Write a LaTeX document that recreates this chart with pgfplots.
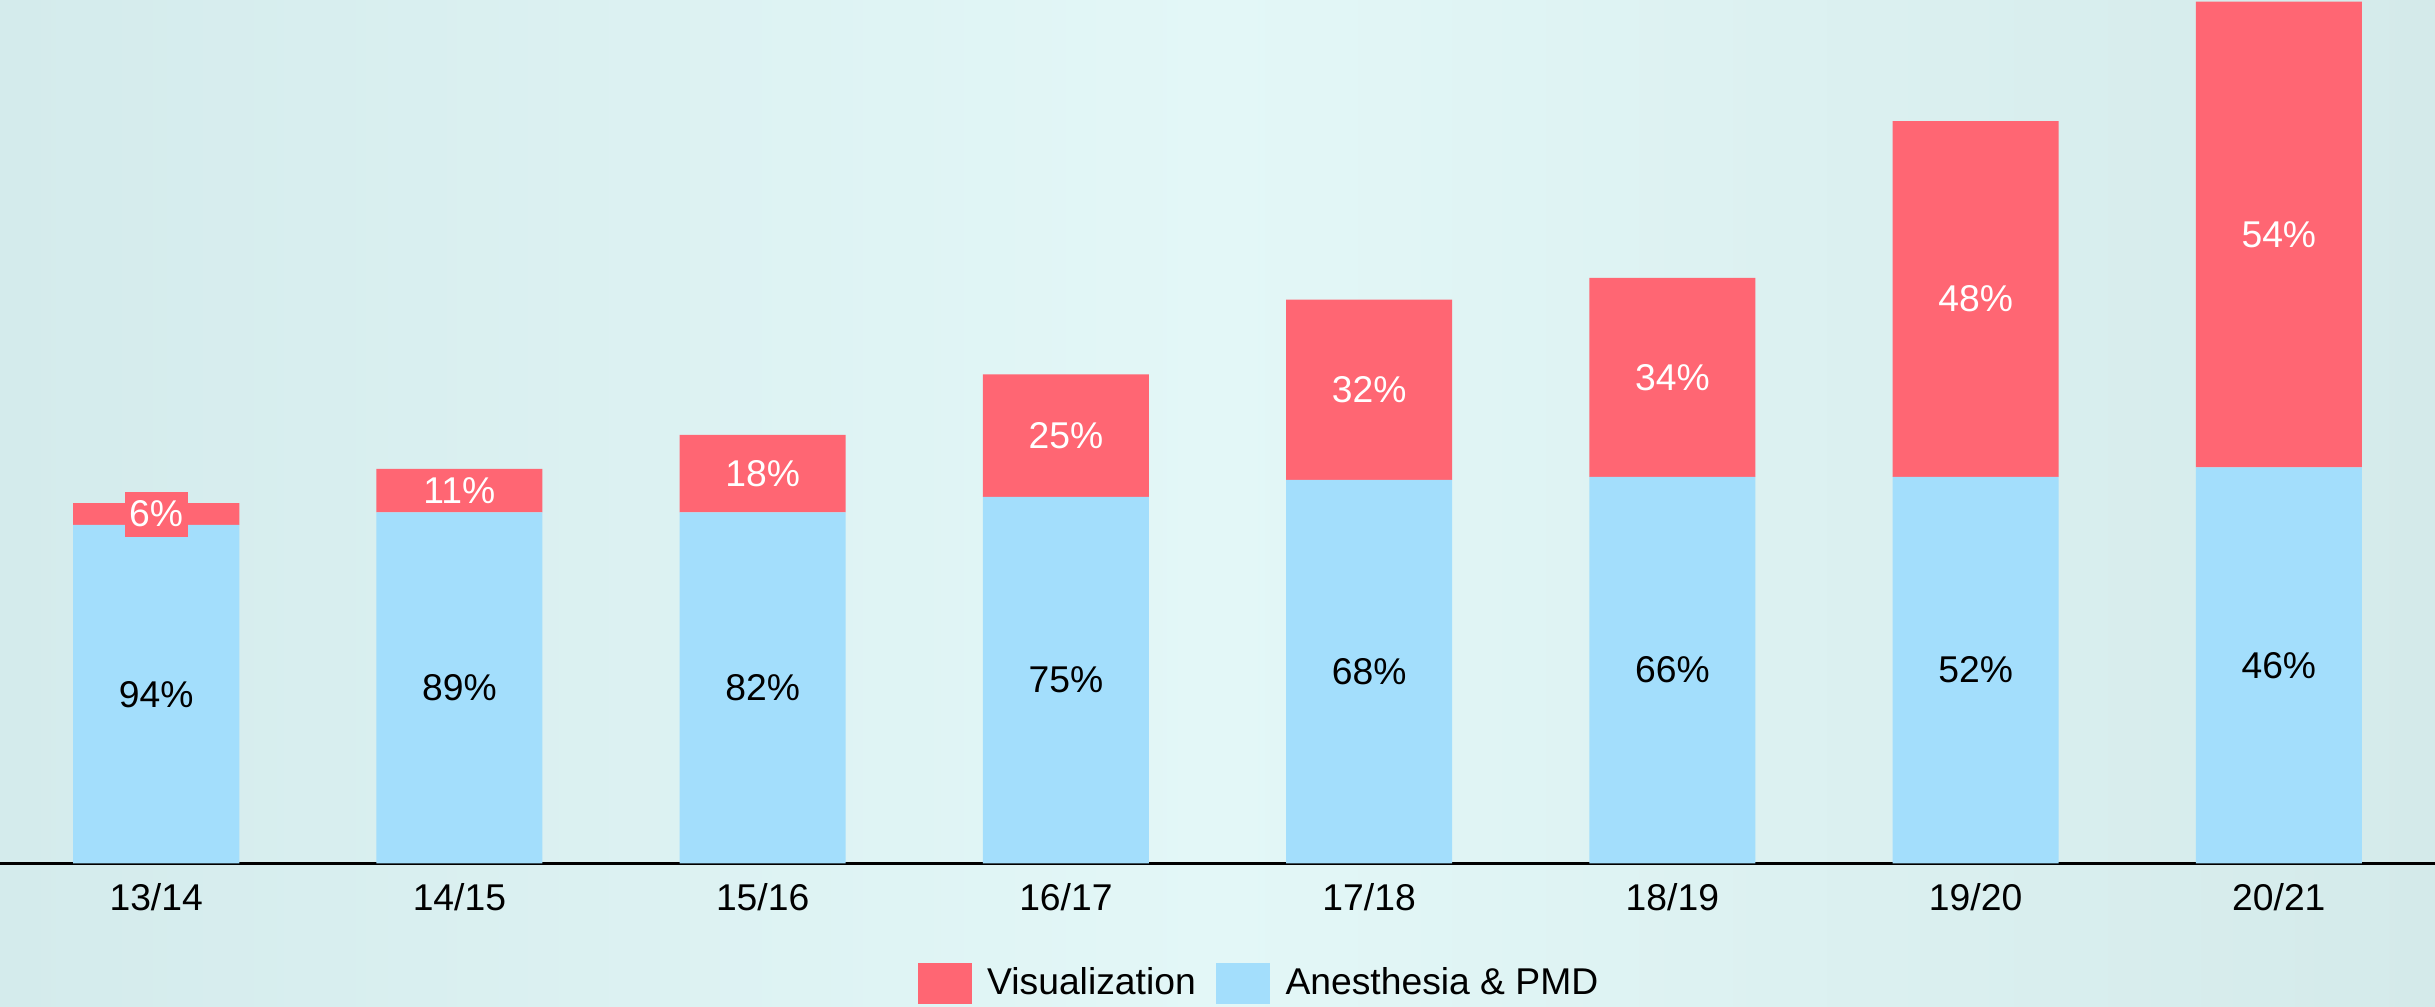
\documentclass[border=0pt]{standalone}
\usepackage{pgfplots}
\pgfplotsset{compat=1.18}
\usepackage{fontspec}
\setmainfont{Liberation Sans}
\definecolor{visred}{HTML}{FF6673}
\definecolor{anblue}{HTML}{A3DEFC}
\definecolor{bgL}{HTML}{D4EBEC}
\definecolor{bgM}{HTML}{E3F7F7}
\definecolor{bgR}{HTML}{D4EAEA}
\begin{document}
\begin{tikzpicture}[font=\fontsize{12}{14.4}\selectfont]
\shade[left color=bgL, right color=bgR, middle color=bgM] (0pt,0pt) rectangle (784pt,-324pt);
\begin{axis}[
  at={(0pt,0pt)}, anchor=north west,
  width=784pt, height=278pt, scale only axis,
  ybar stacked, bar width=53.5pt,
  xmin=-0.515, xmax=7.515, ymin=0, ymax=556,
  axis x line=bottom, hide y axis,
  x axis line style={-, black, line width=0.75pt},
  xtick={0,...,7},
  xticklabels={13/14,14/15,15/16,16/17,17/18,18/19,19/20,20/21},
  major tick length=0pt,
  xticklabel style={yshift=-3pt, font=\fontsize{12}{14.4}\selectfont},
  clip=false,
  legend columns=2,
  legend style={at={(0.5179,-0.1385)}, anchor=center, draw=none, fill=none,
    inner sep=0pt, font=\fontsize{12}{14.4}\selectfont,
    /tikz/every even column/.append style={column sep=4.5pt}},
  after end axis/.code={
    \node at (axis cs:0,109) {94\%};
    \node at (axis cs:1,113) {89\%};
    \node at (axis cs:2,113) {82\%};
    \node at (axis cs:3,118) {75\%};
    \node at (axis cs:4,123.5) {68\%};
    \node at (axis cs:5,124.5) {66\%};
    \node at (axis cs:6,124.5) {52\%};
    \node at (axis cs:7,127.5) {46\%};
    \node[fill=visred, text=white, inner xsep=1.5pt, inner ysep=3pt] at (axis cs:0,225) {6\%};
    \node[text=white] at (axis cs:1,240) {11\%};
    \node[text=white] at (axis cs:2,251) {18\%};
    \node[text=white] at (axis cs:3,275.5) {25\%};
    \node[text=white] at (axis cs:4,305) {32\%};
    \node[text=white] at (axis cs:5,313) {34\%};
    \node[text=white] at (axis cs:6,363.5) {48\%};
    \node[text=white] at (axis cs:7,405) {54\%};
  },
]
\addlegendimage{legend image code/.code={\fill[visred] (0pt,-6.5pt) rectangle (17pt,6.2pt);}}
\addlegendentry{\hspace{3pt}Visualization}
\addlegendimage{legend image code/.code={\fill[anblue] (0pt,-6.5pt) rectangle (17pt,6.2pt);}}
\addlegendentry{\hspace{3pt}Anesthesia \& PMD}
\addplot[fill=anblue, draw=none, forget plot] coordinates {(0,218) (1,226) (2,226) (3,236) (4,247) (5,249) (6,249) (7,255)};
\addplot[fill=visred, draw=none, forget plot] coordinates {(0,14) (1,28) (2,50) (3,79) (4,116) (5,128) (6,229) (7,300)};
\end{axis}
\pgfresetboundingbox
\useasboundingbox (0pt,0pt) rectangle (784pt,-324pt);
\end{tikzpicture}
\end{document}
